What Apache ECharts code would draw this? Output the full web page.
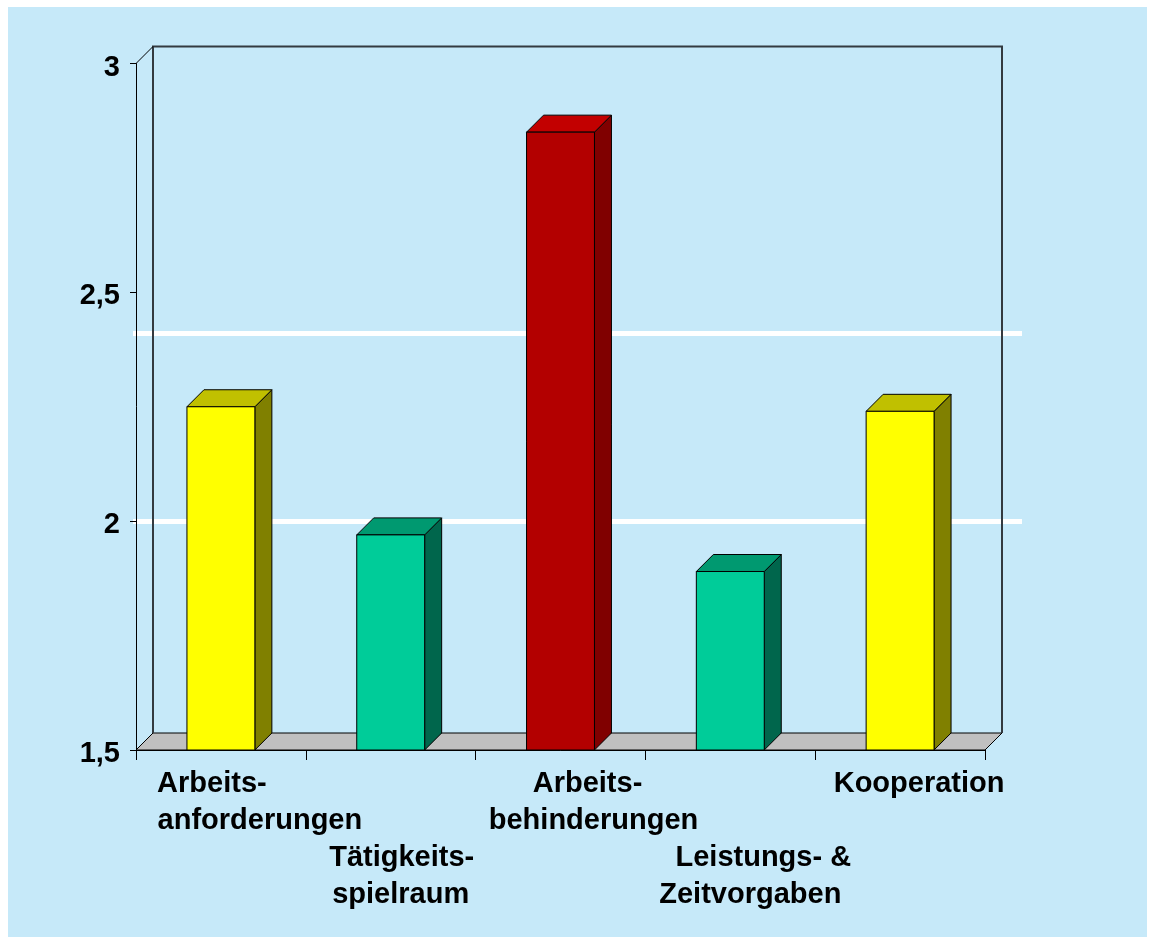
<!DOCTYPE html>
<html>
<head>
<meta charset="utf-8">
<script src="https://cdn.jsdelivr.net/npm/echarts@6/dist/echarts.min.js"></script>
<style>
  html, body { margin: 0; padding: 0; background: #ffffff; }
  #chart { position: absolute; left: 8px; top: 7px; width: 1139px; height: 930px; background: #c6e9f9; }
</style>
</head>
<body>
<div id="chart"></div>
<script>
// data
const categories = [
  'Arbeits-\nanforderungen',
  'Tätigkeits-\nspielraum',
  'Arbeits-\nbehinderungen',
  'Leistungs- &\nZeitvorgaben',
  'Kooperation'
]
const values = [2.25, 1.97, 2.85, 1.89, 2.24]
const yTicks = [1.5, 2, 2.5, 3]
const whiteLines = [2, 2.41]

// styling
const palette = [
  { front: '#ffff00', top: '#c0c000', side: '#808000' },
  { front: '#00cc99', top: '#009970', side: '#00664c' },
  { front: '#b30000', top: '#c20000', side: '#800000' },
  { front: '#00cc99', top: '#009970', side: '#00664c' },
  { front: '#ffff00', top: '#c0c000', side: '#808000' }
]
const DEPTH = 17
// per line horizontal shift of the labels (px), lower row for odd index
const labelShift = [[-9, 39], [11, 10], [27, 33], [33, 20], [19]]
const font = '"Liberation Sans", Arial, sans-serif'
const FS = 29

const rich = { sp: { fontSize: FS, lineHeight: 37, fontFamily: font, fontWeight: 'bold' } }
labelShift.forEach((row, i) => {
  row.forEach((s, j) => {
    rich['l' + i + '_' + j] = {
      fontSize: FS, lineHeight: 37, fontFamily: font, fontWeight: 'bold', color: '#000',
      padding: [0, s < 0 ? -2 * s : 0, 0, s > 0 ? 2 * s : 0]
    }
  })
})

const chart = echarts.init(document.getElementById('chart'))

const option = {
  animation: false,
  grid: [
    { left: 128, top: 56.5, width: 849, height: 686.5 },
    { left: 125, top: 56.5, width: 889, height: 686.5 }
  ],
  xAxis: [
    {
      type: 'category',
      data: categories,
      gridIndex: 0,
      z: 5,
      axisLine: { lineStyle: { color: '#000', width: 1 } },
      axisTick: { show: true, interval: 0, length: 10, lineStyle: { color: '#000' } },
      axisLabel: {
        interval: 0,
        margin: 15,
        formatter: (val, idx) => {
          const lines = val.split('\n').map((t, j) => `{l${idx}_${j}|${t}}`)
          if (idx % 2 === 1) return '{sp| }\n{sp| }\n' + lines.join('\n')
          return lines.join('\n')
        },
        rich: rich
      },
      splitLine: { show: false }
    },
    { type: 'value', gridIndex: 1, min: 0, max: 1, show: false }
  ],
  yAxis: [
    {
      type: 'value',
      gridIndex: 0,
      min: yTicks[0],
      max: yTicks[yTicks.length - 1],
      interval: 0.5,
      z: 5,
      axisLine: { show: true, lineStyle: { color: '#000', width: 1 } },
      axisTick: { show: true, length: 6, lineStyle: { color: '#000' } },
      axisLabel: {
        margin: 16,
        formatter: (v) => '{y|' + String(v).replace('.', ',') + '}',
        rich: {
          y: { color: '#000', fontSize: FS, fontWeight: 'bold', fontFamily: font, padding: [8, 0, 0, 0] }
        }
      },
      splitLine: { show: false }
    },
    { type: 'value', gridIndex: 1, min: yTicks[0], max: yTicks[yTicks.length - 1], show: false }
  ],
  series: [
    {
      // white reference lines behind the box
      type: 'line',
      xAxisIndex: 1,
      yAxisIndex: 1,
      data: [],
      z: 1,
      silent: true,
      markLine: {
        silent: true,
        z: 1,
        symbol: 'none',
        label: { show: false },
        lineStyle: { color: '#ffffff', width: 5, type: 'solid' },
        data: whiteLines.map(v => ({ yAxis: v }))
      }
    },
    {
      // floor and back wall of the 3d box
      type: 'custom',
      xAxisIndex: 0,
      yAxisIndex: 0,
      z: 2,
      silent: true,
      clip: false,
      data: [[0, yTicks[0]]],
      renderItem: (params, api) => {
        const cs = params.coordSys
        const x = cs.x, y = cs.y, w = cs.width, h = cs.height, d = DEPTH
        return {
          type: 'group',
          children: [
            {
              type: 'polygon',
              shape: { points: [[x, y + h], [x + w, y + h], [x + w + d, y + h - d], [x + d, y + h - d]] },
              style: { fill: '#c0c0c0', stroke: '#000', lineWidth: 1 }
            },
            {
              type: 'polyline',
              shape: { points: [[x + d, y + h - d], [x + d, y - d], [x + w + d, y - d], [x + w + d, y + h - d]] },
              style: { fill: null, stroke: '#333a40', lineWidth: 2 }
            },
            {
              type: 'line',
              shape: { x1: x, y1: y, x2: x + d, y2: y - d },
              style: { stroke: '#000', lineWidth: 1 }
            }
          ]
        }
      }
    },
    {
      // 3d bars
      type: 'custom',
      xAxisIndex: 0,
      yAxisIndex: 0,
      z: 3,
      clip: false,
      data: values.map((v, i) => [i, v]),
      renderItem: (params, api) => {
        const i = api.value(0)
        const top = api.coord([i, api.value(1)])
        const base = api.coord([i, yTicks[0]])
        const bw = api.size([1, 0])[0] * 0.4
        const d = DEPTH
        const l = top[0] - bw / 2, r = top[0] + bw / 2, t = top[1], b = base[1]
        const c = palette[params.dataIndex]
        return {
          type: 'group',
          children: [
            {
              type: 'polygon',
              shape: { points: [[r, t], [r + d, t - d], [r + d, b - d], [r, b]] },
              style: { fill: c.side, stroke: '#000', lineWidth: 1 }
            },
            {
              type: 'polygon',
              shape: { points: [[l, t], [l + d, t - d], [r + d, t - d], [r, t]] },
              style: { fill: c.top, stroke: '#000', lineWidth: 1 }
            },
            {
              type: 'rect',
              shape: { x: l, y: t, width: bw, height: b - t },
              style: { fill: c.front, stroke: '#000', lineWidth: 1 }
            }
          ]
        }
      }
    }
  ]
}

chart.setOption(option)
</script>
</body>
</html>
